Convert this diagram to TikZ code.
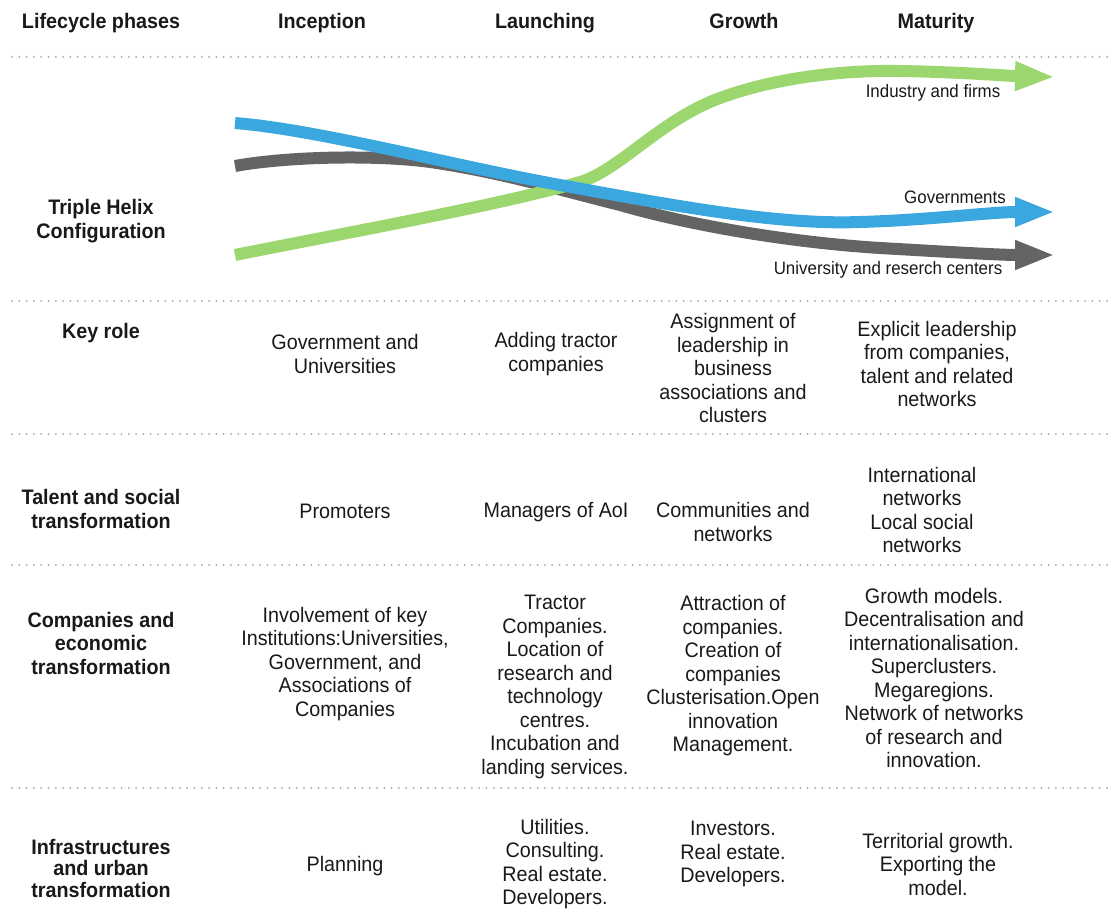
\documentclass[tikz,border=0pt]{standalone}
\usepackage{fontspec}
\setmainfont{Liberation Sans}[FakeStretch=0.94]
\usetikzlibrary{arrows.meta}
\definecolor{helixblue}{RGB}{58,167,222}
\definecolor{helixgreen}{RGB}{155,215,110}
\definecolor{helixgray}{RGB}{100,100,100}
\definecolor{txt}{RGB}{25,25,25}
\definecolor{dotc}{RGB}{165,165,165}
\begin{document}
\begin{tikzpicture}[x=1pt,y=-1pt,
 hdr/.style={font=\fontsize{21}{23.5}\selectfont\bfseries, text=txt, inner sep=0pt, align=center},
 colhdr/.style={hdr, anchor=base},
 cell/.style={font=\fontsize{21}{23.5}\selectfont, text=txt, inner sep=0pt, align=center},
 lbl/.style={font=\fontsize{18}{20}\selectfont, text=txt, inner sep=0pt},
 sep/.style={draw=dotc, line width=2pt, line cap=round, dash pattern=on 0pt off 7.3pt},
 helix/.style={line width=12pt, -{Triangle[length=40pt 0 0, width=27pt 0 0]}},
]
\useasboundingbox (0,0) rectangle (1113,909);

% separators
\draw[sep] (12,57) -- (1113,57);
\draw[sep] (12,301) -- (1113,301);
\draw[sep] (12,434) -- (1113,434);
\draw[sep] (12,565) -- (1113,565);
\draw[sep] (12,788) -- (1113,788);

% headers
\node[colhdr] (h0) at (101,29) {Lifecycle phases};
\node[colhdr] (h1) at (322,29) {Inception};
\node[colhdr] (h2) at (545,29) {Launching};
\node[colhdr] (h3) at (744,29) {Growth};
\node[colhdr] (h4) at (936,29) {Maturity};

% row labels
\node[hdr] (r1) at (101,221) {Triple Helix\\Configuration};
\node[hdr] (r2) at (101,333) {Key role};
\node[hdr] (r3) at (101,509) {Talent and social\\transformation};
\node[hdr] (r4) at (101,643) {Companies and\\economic\\transformation};
\node[hdr, font=\fontsize{21}{21.5}\selectfont\bfseries] (r5) at (101,868) {Infrastructures\\and urban\\transformation};

% helix curves
\draw[helix, helixgray] (235,166) .. controls (290,156) and (380,155) .. (430,162)
  .. controls (500,172) and (560,190) .. (620,205)
  .. controls (700,228) and (800,243) .. (880,248)
  .. controls (950,252) and (1000,255) .. (1055,255);
\draw[helix, helixgreen] (235,255) .. controls (350,232) and (500,205) .. (580,182)
  .. controls (620,170) and (660,120) .. (720,98)
  .. controls (780,76) and (850,70) .. (900,71)
  .. controls (960,72) and (1010,76) .. (1055,77);
\draw[helix, helixblue] (235,123) .. controls (320,130) and (450,165) .. (560,185)
  .. controls (680,207) and (780,225) .. (860,222)
  .. controls (930,220) and (990,212) .. (1055,212);

\node[lbl] (l1) at (933,93) {Industry and firms};
\node[lbl] (l2) at (955,197) {Governments};
\node[lbl] (l3) at (888,270) {University and reserch centers};

% key role row
\node[cell] (c21) at (345,354) {Government and\\Universities};
\node[cell] (c22) at (556,354) {Adding tractor\\companies};
\node[cell] (c23) at (733,368) {Assignment of\\leadership in\\business\\associations and\\clusters};
\node[cell] (c24) at (937,364) {Explicit leadership\\from companies,\\talent and related\\networks};

% talent row
\node[cell] (c31) at (345,511) {Promoters};
\node[cell] (c32) at (556,512) {Managers of AoI};
\node[cell] (c33) at (733,522) {Communities and\\networks};
\node[cell] (c34) at (922,510) {International\\networks\\Local social\\networks};

% companies row
\node[cell] (c41) at (345,664) {Involvement of key\\Institutions:Universities,\\Government, and\\Associations of\\Companies};
\node[cell] (c42) at (555,687) {Tractor\\Companies.\\Location of\\research and\\technology\\centres.\\Incubation and\\landing services.};
\node[cell] (c43) at (733,676) {Attraction of\\companies.\\Creation of\\companies\\Clusterisation.Open\\innovation\\Management.};
\node[cell] (c44) at (934,678) {Growth models.\\Decentralisation and\\internationalisation.\\Superclusters.\\Megaregions.\\Network of networks\\of research and\\innovation.};

% infrastructure row
\node[cell] (c51) at (345,866) {Planning};
\node[cell] (c52) at (555,864) {Utilities.\\Consulting.\\Real estate.\\Developers.};
\node[cell] (c53) at (733,854) {Investors.\\Real estate.\\Developers.};
\node[cell] (c54) at (938,864) {Territorial growth.\\Exporting the\\model.};
\end{tikzpicture}
\end{document}
